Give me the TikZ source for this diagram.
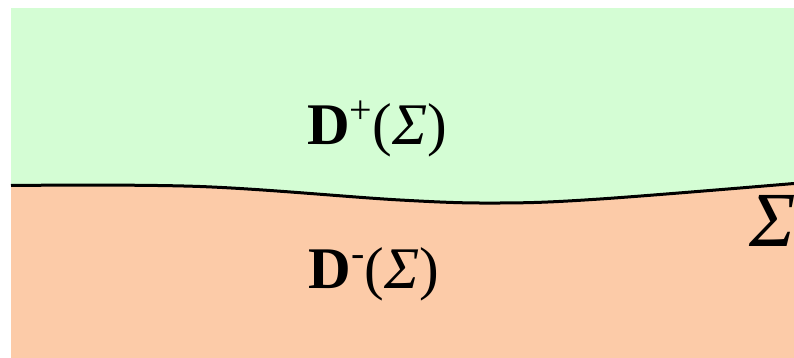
\documentclass[tikz,border=0pt]{standalone}
\usepackage{fontspec}
\setmainfont{Liberation Serif}
\definecolor{futgreen}{RGB}{212,253,212}
\definecolor{pastorange}{RGB}{252,203,168}
\newcommand{\supmark}[1]{\raisebox{0.36em}{\fontsize{40}{42}\selectfont #1}}
\begin{document}
\begin{tikzpicture}[x=1pt,y=-1pt,
  lbl/.style={inner sep=0pt,anchor=base,font=\fontsize{59}{62}\selectfont}]
\useasboundingbox (0,0) rectangle (794,358);
\fill[futgreen] (11,8) rectangle (794,215);
\fill[pastorange] plot[smooth,tension=0.6] coordinates {(11,185.5) (200,186.5) (400,200) (500,203) (600,199) (794,183.5)} -- (794,358) -- (11,358) -- cycle;
\draw[line width=3pt] plot[smooth,tension=0.6] coordinates {(11,185.5) (200,186.5) (400,200) (500,203) (600,199) (794,183.5)};
\node[lbl] (dplus) at (377,145) {\textbf{D}\supmark{+}(\textit{Σ})};
\node[lbl] (dminus) at (374,288) {\textbf{D}\supmark{-}(\textit{Σ})};
\node[lbl,anchor=base west,font=\fontsize{78}{82}\selectfont] (sigma) at (749,246) {\textit{Σ}};
\end{tikzpicture}
\end{document}
